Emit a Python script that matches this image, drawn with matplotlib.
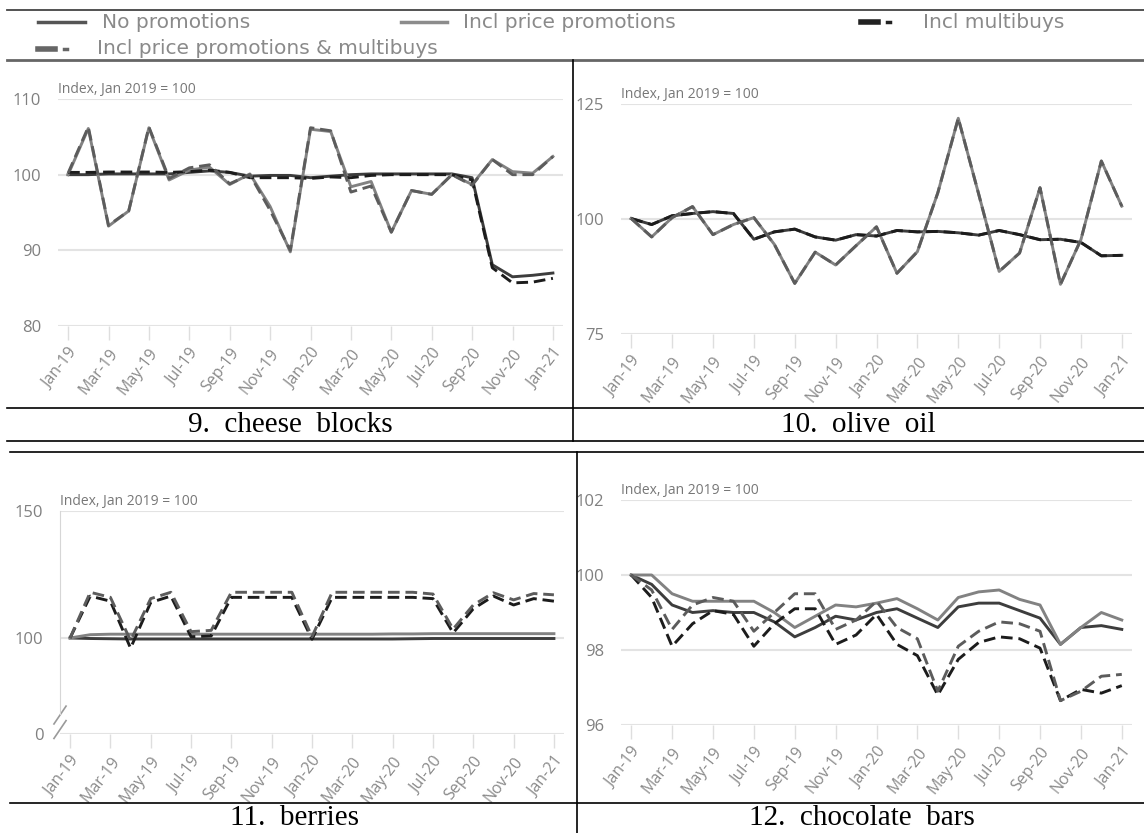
import matplotlib.pyplot as plt
from matplotlib.lines import Line2D
import numpy as np

W, H = 1144, 833

months = ['Jan-19', 'Feb-19', 'Mar-19', 'Apr-19', 'May-19', 'Jun-19', 'Jul-19', 'Aug-19',
          'Sep-19', 'Oct-19', 'Nov-19', 'Dec-19', 'Jan-20', 'Feb-20', 'Mar-20', 'Apr-20',
          'May-20', 'Jun-20', 'Jul-20', 'Aug-20', 'Sep-20', 'Oct-20', 'Nov-20', 'Dec-20', 'Jan-21']
tick_labels = months[::2]
series_names = ['No promotions', 'Incl price promotions', 'Incl multibuys',
                'Incl price promotions & multibuys']

# 9. cheese blocks
cheese_none = [100.0, 100.0, 100.1, 100.1, 100.1, 100.1, 100.3, 100.5, 100.3, 99.8, 99.9, 99.9, 99.6,
               99.8, 100.0, 100.1, 100.1, 100.1, 100.1, 100.1, 99.6, 88.1, 86.5, 86.7, 87.0]
cheese_pp = [100.0, 106.1, 93.2, 95.2, 106.2, 99.3, 100.6, 101.0, 98.7, 100.1, 95.8, 89.8, 106.0,
             105.7, 98.4, 99.1, 92.4, 97.9, 97.4, 100.0, 98.7, 102.0, 100.4, 100.2, 102.4]
cheese_mb = [100.3, 100.3, 100.35, 100.35, 100.35, 100.3, 100.4, 100.6, 100.3, 99.6, 99.6, 99.6, 99.5,
             99.7, 99.6, 99.9, 100.0, 100.0, 100.0, 100.0, 99.3, 87.7, 85.7, 85.8, 86.3]
cheese_ppmb = [100.2, 106.3, 93.3, 95.2, 106.3, 99.5, 100.9, 101.3, 98.8, 100.0, 95.3, 90.0, 106.2,
               105.8, 97.7, 98.5, 92.4, 97.9, 97.4, 100.0, 98.6, 102.0, 100.0, 100.0, 102.4]

# 10. olive oil
olive_none = [100.1, 98.8, 100.7, 101.2, 101.6, 101.2, 95.6, 97.2, 97.8, 96.1, 95.4, 96.6, 96.3,
              97.5, 97.2, 97.3, 97.0, 96.5, 97.5, 96.6, 95.5, 95.6, 94.9, 92.0, 92.1]
olive_pp = [100.1, 96.1, 100.3, 102.7, 96.6, 98.8, 100.3, 94.5, 86.0, 92.8, 90.0, 94.2, 98.3,
            88.2, 92.9, 105.7, 121.9, 105.4, 88.6, 92.6, 106.8, 85.8, 95.5, 112.6, 102.8]
olive_mb = [100.1, 98.8, 100.7, 101.2, 101.6, 101.2, 95.6, 97.2, 97.8, 96.1, 95.4, 96.6, 96.3,
            97.5, 97.2, 97.3, 97.0, 96.5, 97.5, 96.6, 95.5, 95.6, 94.9, 92.0, 92.1]
olive_ppmb = [100.1, 96.1, 100.3, 102.7, 96.6, 98.8, 100.3, 94.5, 86.0, 92.8, 90.0, 94.2, 98.3,
              88.2, 92.9, 105.7, 121.9, 105.4, 88.6, 92.6, 106.8, 85.8, 95.5, 112.6, 102.8]

# 11. berries
berries_none = [100.0, 99.8, 99.7, 99.6, 99.6, 99.6, 99.6, 99.6, 99.6, 99.6, 99.6, 99.6, 99.6,
                99.6, 99.6, 99.6, 99.6, 99.7, 99.8, 99.8, 99.8, 99.8, 99.8, 99.8, 99.8]
berries_pp = [100.0, 101.3, 101.5, 101.5, 101.5, 101.5, 101.5, 101.5, 101.5, 101.5, 101.5, 101.5, 101.5,
              101.5, 101.5, 101.5, 101.6, 101.6, 101.7, 101.7, 101.7, 101.7, 101.7, 101.7, 101.7]
berries_mb = [100.0, 116.5, 114.5, 96.0, 114.0, 116.5, 100.5, 100.8, 116.0, 116.0, 116.0, 116.0, 99.5,
              116.0, 116.0, 116.0, 116.0, 116.0, 115.5, 102.0, 111.5, 116.5, 113.0, 115.5, 114.5]
berries_ppmb = [100.0, 118.0, 116.0, 99.0, 115.5, 118.0, 102.5, 103.0, 118.0, 118.0, 118.0, 118.0, 100.5,
                118.0, 118.0, 118.0, 118.0, 118.0, 117.3, 103.5, 113.0, 117.8, 115.0, 117.5, 117.0]

# 12. chocolate bars
choc_none = [100.0, 99.75, 99.2, 99.0, 99.05, 99.0, 99.0, 98.75, 98.35, 98.6, 98.9, 98.8, 99.0,
             99.1, 98.85, 98.6, 99.15, 99.25, 99.25, 99.05, 98.85, 98.15, 98.6, 98.65, 98.55]
choc_pp = [100.0, 100.0, 99.5, 99.3, 99.3, 99.3, 99.3, 99.0, 98.6, 98.9, 99.2, 99.15, 99.25,
           99.37, 99.1, 98.8, 99.4, 99.55, 99.6, 99.35, 99.2, 98.15, 98.6, 99.0, 98.8]
choc_mb = [100.0, 99.4, 98.1, 98.7, 99.05, 98.95, 98.1, 98.7, 99.1, 99.1, 98.15, 98.4, 98.95,
           98.15, 97.85, 96.8, 97.75, 98.2, 98.35, 98.3, 98.05, 96.65, 96.95, 96.85, 97.05]
choc_ppmb = [100.0, 99.6, 98.55, 99.2, 99.4, 99.3, 98.5, 99.0, 99.5, 99.5, 98.55, 98.8, 99.3,
             98.6, 98.3, 96.9, 98.1, 98.5, 98.75, 98.7, 98.5, 96.65, 96.9, 97.3, 97.35]

colors = ['#3d3d3d', '#828282', '#1c1c1c', '#5c5c5c']
styles = ['-', '-', (0, (4, 2)), (0, (4, 2))]

x = np.arange(len(months))

fig = plt.figure(figsize=(W / 100, H / 100), dpi=100)


def px_axes(l, t, r, b):
    return fig.add_axes([l / W, 1 - b / H, (r - l) / W, (b - t) / H])


def fline(xs, ys, color='black', lw=1.2):
    fig.add_artist(Line2D([v / W for v in xs], [1 - v / H for v in ys], color=color, lw=lw))


def panel(ax, data, ylim, yticks, ylabels):
    for vals, c, ls in zip(data, colors, styles):
        ax.plot(x, vals, color=c, ls=ls, lw=2.1, solid_joinstyle='round')
    ax.set_xlim(-0.5, 24.5)
    ax.set_ylim(*ylim)
    for s in ax.spines.values():
        s.set_visible(False)
    ax.set_yticks(yticks)
    ax.set_yticklabels(ylabels, family='Open Sans')
    ax.yaxis.grid(True, color='#e3e3e3', lw=1.5)
    ax.set_axisbelow(True)
    ax.tick_params(axis='y', length=0, pad=12, labelsize=12, labelcolor='#808080')
    ax.set_xticks(x[::2])
    ax.set_xticklabels(tick_labels, rotation=52, ha='right', va='top',
                       rotation_mode='anchor', family='Open Sans')
    ax.tick_params(axis='x', length=10, width=1, color='#dedede', pad=4,
                   labelsize=11.5, labelcolor='#8a8a8a')
    ax.text(0.0, 1.01, 'Index, Jan 2019 = 100', transform=ax.transAxes, ha='left', va='bottom',
            fontsize=10, color='#777777', family='Open Sans')


ax9 = px_axes(58, 99, 563, 326)
panel(ax9, [cheese_none, cheese_pp, cheese_mb, cheese_ppmb], (80, 110), [80, 90, 100, 110],
      ['80', '90', '100', '110'])

ax10 = px_axes(621, 104, 1132, 334)
panel(ax10, [olive_none, olive_pp, olive_mb, olive_ppmb], (75, 125), [75, 100, 125],
      ['75', '100', '125'])

ax11 = px_axes(60, 511, 564, 734)
panel(ax11, [berries_none, berries_pp, berries_mb, berries_ppmb], (62.2, 150), [62.2, 100, 150],
      ['0', '100', '150'])
ax11.spines['left'].set_visible(True)
ax11.spines['left'].set_color('#d6d6d6')
ax11.spines['left'].set_bounds(70, 150)
for yb in (0.02, 0.085):
    ax11.plot([-0.012, 0.012], [yb - 0.04, yb + 0.04], transform=ax11.transAxes,
              color='#9a9a9a', lw=1.2, clip_on=False)

ax12 = px_axes(621, 500, 1132, 725)
panel(ax12, [choc_none, choc_pp, choc_mb, choc_ppmb], (96, 102), [96, 98, 100, 102],
      ['96', '98', '100', '102'])

# legend strip
fline([7, W], [10, 10], '#444444', 1.3)
fline([7, W], [60, 60], '#666666', 2.0)
leg_text = dict(fontsize=14.5, color='#8a8a8a', va='center', ha='left', family='DejaVu Sans')
fline([38, 85], [22, 22], '#555555', 2.5)
fig.text(102 / W, 1 - 22 / H, series_names[0], **leg_text)
fline([401, 447], [22, 22], '#8c8c8c', 2.5)
fig.text(463 / W, 1 - 22 / H, series_names[1], **leg_text)
fline([861, 878], [22, 22], '#222222', 4)
fline([887, 890], [22, 22], '#222222', 2.5)
fig.text(923 / W, 1 - 22 / H, series_names[2], **leg_text)
fline([38, 55], [49, 49], '#666666', 4)
fline([64, 67], [49, 49], '#666666', 2.5)
fig.text(97 / W, 1 - 49 / H, series_names[3], **leg_text)

# table lines
fline([573, 573], [60, 441])
fline([7, W], [408, 408])
fline([7, W], [441, 441])
fline([10, W], [452, 452])
fline([577, 577], [452, H])
fline([10, W], [803, 803])

cap = dict(fontsize=21, family='Liberation Serif', ha='center', va='center', color='black')
fig.text(290 / W, 1 - 425 / H, '9.  cheese  blocks', **cap)
fig.text(858 / W, 1 - 425 / H, '10.  olive  oil', **cap)
fig.text(294 / W, 1 - 818 / H, '11.  berries', **cap)
fig.text(862 / W, 1 - 818 / H, '12.  chocolate  bars', **cap)

fig.savefig('out.png', dpi=100)
